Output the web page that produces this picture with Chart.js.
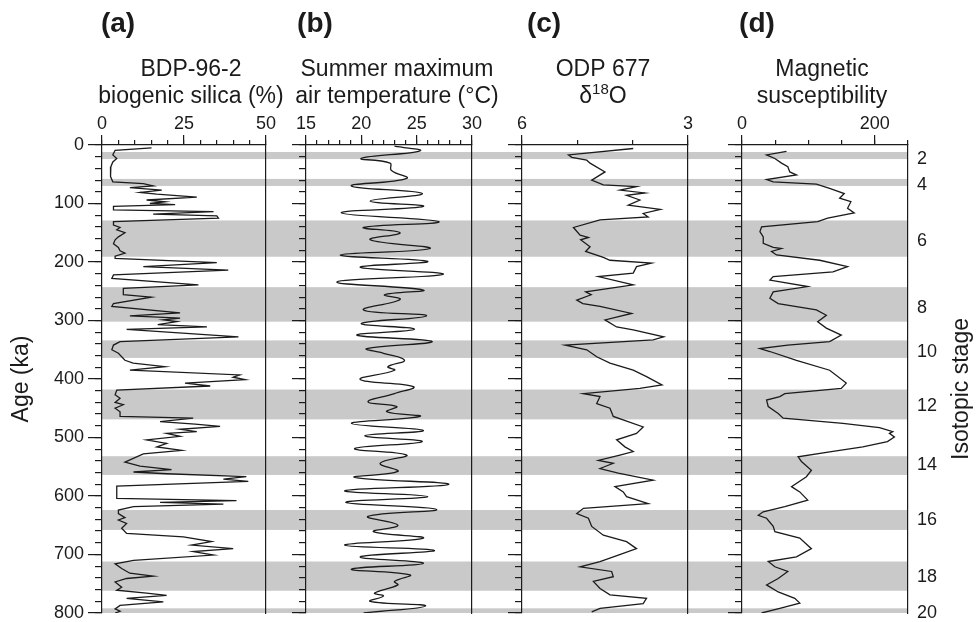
<!DOCTYPE html>
<html lang="en">
<head>
<meta charset="UTF-8" />
<title>BDP-96-2 records vs age</title>
<style>
  html, body { margin: 0; background: #fff; }
  #wrap { position: relative; width: 979px; height: 622px; }
  #wrap canvas { position: absolute; left: 0; top: 0; }
</style>
</head>
<body>
<div id="wrap">
  <canvas id="bands" width="979" height="622"></canvas>
  <canvas id="panelA" width="979" height="622"></canvas>
  <canvas id="panelB" width="979" height="622"></canvas>
  <canvas id="panelC" width="979" height="622"></canvas>
  <canvas id="panelD" width="979" height="622"></canvas>
</div>
<script src="https://cdn.jsdelivr.net/npm/chart.js"></script>
<script>
// glacial (even) isotopic stages, shaded grey (ka)
const glacialStart = [12, 58, 129, 243, 334, 418, 532, 624, 712, 792];
const glacialEnd   = [24, 70, 191, 302, 364, 469, 564, 658, 762, 800];
const stageAges   = [24, 68, 165, 279, 354, 447, 547, 641, 738, 800];
const stageLabels = ['2', '4', '6', '8', '10', '12', '14', '16', '18', '20'];

// x-axis tick labels of each panel
const silicaTicks = [0, 25, 50];
const tempTicks = [15, 20, 25, 30];
const d18oTicks = [6, 3];
const magTicks = [0, 200];

// (a) BDP-96-2 biogenic silica (%)
const silicaAge = [5, 9, 17, 23, 29, 37, 54, 63, 66, 70, 73, 77, 81, 84, 89, 94, 97, 100, 102, 105,
  111, 114, 118, 121, 125, 131, 137, 141, 145, 150, 157, 162, 169, 175, 181, 185, 190, 194, 201, 208,
  214, 222, 228, 239, 245, 256, 260, 271, 276, 287, 292, 296, 299, 302, 307, 311, 315, 328, 336, 342,
  350, 356, 368, 373, 379, 385, 393, 397, 401, 407, 412, 419, 427, 433, 440, 444, 450, 456, 464, 467,
  473, 477, 481, 486, 490, 493, 498, 504, 510, 516, 522, 528, 542, 549, 555, 559, 562, 567, 571, 575,
  583, 590, 604, 608, 611, 614, 618, 624, 630, 637, 641, 647, 655, 664, 670, 678, 684, 690, 695, 701,
  710, 716, 724, 732, 737, 741, 747, 756, 761, 766, 770, 775, 781, 787, 793, 797, 800];
const silicaPct = [15.1, 4.0, 3.3, 4.5, 3.3, 2.7, 2.6, 3.3, 12.6, 15.6, 8.5, 18.2, 11.6, 16.7, 28.9, 13.6, 19.2, 14.6, 22.3, 3.5,
  3.5, 34, 15.6, 35, 35.5, 3.5, 3.5, 5.5, 4.5, 7, 5, 4, 3.5, 5, 5.5, 7, 4, 4, 35, 12.6,
  38.5, 3.5, 3, 29.4, 6.5, 6.5, 15, 3.5, 3, 23.8, 8.5, 23.8, 18.7, 22.8, 17, 32, 7.5, 41.6, 5.5, 3.5,
  3, 5, 7, 9.5, 19.2, 8.5, 42, 40, 43.6, 25.3, 33, 4.5, 4, 5.5, 4, 6.5, 4, 5.5, 5.5, 27.8,
  17.7, 28.4, 36, 23.8, 28.9, 19.7, 23.8, 13.6, 19.7, 16.7, 24.3, 12.6, 7, 11.6, 21.2, 9.6, 19.7, 44, 37, 44.6,
  4.5, 4.5, 4.5, 41, 17.7, 37, 9.6, 5, 5, 7, 5, 7.5, 6, 7.5, 24.8, 33.4, 27.3, 40, 27.8, 34,
  9.6, 4, 6, 8.5, 15.6, 7.5, 4, 6, 4.5, 13.6, 19.7, 7.5, 18.7, 5.5, 4, 5.5, 4];

// (b) summer maximum air temperature (deg C)
const tempAge = [2, 10, 23, 31, 43, 57, 70, 83, 96, 105, 116, 131, 141, 150, 162, 177, 188, 199, 209, 221,
  234, 248, 256, 264, 282, 292, 305, 315, 325, 336, 348, 356, 368, 379, 385, 401, 413, 425, 439, 447,
  456, 464, 476, 488, 497, 507, 519, 530, 544, 558, 568, 580, 591, 601, 611, 623, 635, 650, 661, 672,
  684, 693, 704, 715, 725, 735, 746, 752, 766, 771, 780, 788, 800];
const tempC = [23.0, 25.3, 20.0, 22.6, 22.7, 24.1, 19.1, 25.5, 20.8, 25.6, 18.2, 27.0, 20.2, 23.5, 20.8, 26.2, 18.1, 26.0, 19.9, 27.4,
  17.8, 25.6, 22.1, 23.5, 20.2, 25.9, 20.0, 24.8, 19.6, 26.4, 20.5, 22.0, 23.9, 22.4, 23.0, 19.9, 24.7, 23.0, 20.6, 23.2,
  22.3, 25.3, 19.1, 25.6, 20.3, 25.5, 19.4, 24.1, 21.7, 23.3, 19.4, 27.9, 18.5, 26.0, 18.6, 26.8, 20.6, 23.3, 21.1, 25.6,
  18.5, 26.6, 19.9, 25.6, 19.1, 24.4, 23.0, 23.3, 21.2, 22.0, 20.8, 25.8, 20.2];

// (c) ODP 677 d18O
const d18oAge = [6, 17, 21, 26, 31, 46, 60, 68, 71, 77, 82, 86, 94, 103, 110, 117, 123, 128, 141, 154,
  158, 162, 174, 182, 192, 197, 202, 208, 219, 225, 239, 251, 256, 265, 271, 276, 288, 299, 311, 316,
  328, 333, 342, 350, 362, 373, 385, 396, 410, 416, 425, 430, 442, 450, 464, 482, 493, 504, 516, 524,
  530, 539, 544, 553, 561, 573, 584, 593, 601, 613, 621, 630, 638, 652, 667, 678, 690, 701, 712, 721,
  729, 738, 746, 758, 769, 775, 784, 792, 798];
const d18o = [3.99, 5.16, 5.10, 4.83, 4.77, 4.50, 4.74, 4.53, 3.93, 4.23, 3.78, 4.11, 3.87, 4.08, 3.50, 3.81, 3.72, 4.59, 5.07, 4.95,
  4.80, 4.94, 4.77, 4.85, 4.53, 4.41, 3.66, 3.93, 3.99, 4.62, 3.99, 4.85, 4.75, 5.01, 4.90, 4.59, 4.02, 4.50, 4.29, 3.99,
  3.44, 3.63, 5.22, 4.83, 4.65, 4.41, 3.99, 3.75, 3.47, 3.87, 4.89, 4.59, 4.65, 4.41, 4.35, 3.81, 3.93, 4.29, 4.14, 3.99,
  4.23, 4.62, 4.35, 4.59, 4.26, 3.63, 4.32, 4.17, 4.11, 3.72, 4.89, 5.01, 4.80, 4.74, 4.53, 4.11, 3.93, 4.26, 4.59, 4.95,
  4.38, 4.35, 4.71, 4.59, 4.41, 3.75, 3.81, 4.59, 4.74];

// (d) magnetic susceptibility
const magAge = [11, 17, 23, 31, 37, 46, 51, 59, 63, 67, 74, 83, 91, 97, 108, 116, 125, 131, 140, 148,
  157, 168, 175, 177, 182, 188, 197, 208, 217, 225, 231, 242, 251, 262, 271, 282, 291, 302, 313, 325,
  336, 342, 348, 353, 368, 385, 407, 416, 425, 430, 436, 447, 459, 467, 476, 483, 490, 493, 499, 507,
  516, 524, 533, 541, 556, 567, 584, 593, 607, 618, 627, 633, 638, 652, 661, 672, 690, 704, 712, 721,
  729, 741, 752, 764, 775, 783, 792, 800];
const magSus = [67, 37, 49.5, 59.5, 69, 72, 82, 37, 47, 112, 132, 154, 147, 164, 159, 169, 129, 114, 29.5, 27,
  32, 32, 47, 59.5, 44.5, 52, 117, 159, 137, 47, 42, 99, 47, 42, 54.5, 112, 127, 114, 127, 149.5,
  132, 69, 27, 42, 82, 132, 157, 149.5, 64.5, 57, 37, 39.5, 54.5, 62, 152, 207, 227, 222, 229.5, 219,
  182, 134.5, 84.5, 89.5, 104.5, 97, 74.5, 87, 99, 64.5, 32, 24.5, 37, 47, 49.5, 87, 104.5, 82, 39.5, 49.5,
  69, 54.5, 37, 54.5, 79.5, 87, 57, 29.5];

const INK = '#1b1b1b';
const BAND = '#c9c9c9';
const FONT = '"Liberation Sans", Arial, Helvetica, sans-serif';
const W = 979, H = 622, TOP = 145, BOTTOM = 613;

// grey stage bands behind all four panels
new Chart(document.getElementById('bands'), {
  type: 'scatter',
  data: { datasets: [] },
  options: {
    responsive: false, animation: false, devicePixelRatio: 1,
    layout: { autoPadding: false, padding: { left: 102, right: W - 908, top: TOP, bottom: H - BOTTOM } },
    plugins: { legend: { display: false }, tooltip: { enabled: false } },
    scales: {
      x: { type: 'linear', display: false, min: 0, max: 1 },
      y: { type: 'linear', display: false, reverse: true, min: 0, max: 800 }
    }
  },
  plugins: [{
    id: 'stageBands',
    beforeDatasetsDraw(chart) {
      const { ctx, chartArea: a, scales: { y } } = chart;
      ctx.save();
      ctx.fillStyle = BAND;
      glacialStart.forEach((s, i) => {
        const y1 = y.getPixelForValue(s), y2 = y.getPixelForValue(glacialEnd[i]);
        ctx.fillRect(a.left, y1, a.right - a.left, y2 - y1);
      });
      ctx.restore();
    },
    afterDraw(chart) {
      const { ctx, chartArea: a } = chart;
      ctx.save();
      ctx.translate(a.right + 54, (a.top + a.bottom) / 2 + 10);
      ctx.rotate(-Math.PI / 2);
      ctx.font = `23px ${FONT}`;
      ctx.fillStyle = INK;
      ctx.textAlign = 'center';
      ctx.textBaseline = 'middle';
      ctx.fillText('Isotopic stage', 0, 0);
      ctx.restore();
    }
  }]
});

// panel letter and two-line header; a segment with sup:true is drawn as superscript
const headerPlugin = {
  id: 'panelHeader',
  afterDraw(chart, args, o) {
    const ctx = chart.ctx;
    ctx.save();
    ctx.fillStyle = INK;
    ctx.textBaseline = 'middle';
    ctx.textAlign = 'center';
    ctx.font = `bold 28px ${FONT}`;
    ctx.fillText(o.letter, o.letterX, 24);
    ctx.textAlign = 'left';
    o.lines.forEach((line, k) => {
      const segs = typeof line === 'string' ? [{ t: line }] : line;
      const fontOf = s => s.sup ? `15px ${FONT}` : `23px ${FONT}`;
      let total = 0;
      segs.forEach(s => { ctx.font = fontOf(s); total += ctx.measureText(s.t).width; });
      let x = o.titleX - total / 2;
      const y = 70 + k * 27;
      segs.forEach(s => {
        ctx.font = fontOf(s);
        ctx.fillText(s.t, x, s.sup ? y - 7 : y);
        x += ctx.measureText(s.t).width;
      });
    });
    ctx.restore();
  }
};

const fixH = h => s => { s.height = h; s.paddingLeft = 0; s.paddingRight = 0; };
const fixW = w => s => { s.width = w; s.paddingTop = 0; s.paddingBottom = 0; };

function makePanel(p) {
  const yW = p.ageAxis ? p.left : 16;
  const rW = p.stages ? 70 : 0;
  const topH = 90;
  const tickFont = { family: FONT, size: 18 };
  const ageBase = { type: 'linear', axis: 'y', reverse: true, min: 0, max: 800 };
  const valBase = { type: 'linear', axis: 'x', position: 'top', min: p.min, max: p.max, reverse: !!p.reverse };
  const data = p.ages.map((a, i) => ({ x: p.vals[i], y: a }));

  return new Chart(document.getElementById(p.id), {
    type: 'scatter',
    data: {
      datasets: [{
        data, showLine: true, borderColor: INK, borderWidth: 1.3,
        pointRadius: 0, tension: p.tension, xAxisID: 'x', yAxisID: 'y'
      }]
    },
    options: {
      responsive: false, animation: false, devicePixelRatio: 1,
      layout: { autoPadding: false, padding: { left: p.left - yW, right: W - p.right - rW, top: TOP - topH, bottom: H - BOTTOM } },
      plugins: {
        legend: { display: false }, tooltip: { enabled: false },
        panelHeader: { letter: p.letter, letterX: p.letterX, lines: p.title, titleX: p.titleX }
      },
      scales: {
        x: {
          ...valBase, weight: 1,
          afterBuildTicks: s => { s.ticks = p.ticks.map(v => ({ value: v })); },
          afterFit: fixH(topH),
          grid: { drawOnChartArea: false, tickLength: 10, color: INK, lineWidth: 1.2 },
          border: { display: true, color: INK, width: 1.2 },
          ticks: { padding: 0, autoSkip: false, maxRotation: 0, color: INK, font: tickFont }
        },
        x2: {
          ...valBase, weight: 0,
          ticks: { display: false, stepSize: p.minorStep },
          afterFit: fixH(0),
          grid: { drawOnChartArea: false, tickLength: 5, color: INK, lineWidth: 1.2 },
          border: { display: false }
        },
        y: {
          ...ageBase, position: 'left', weight: 1,
          ticks: { display: !!p.ageAxis, stepSize: 100, padding: 4, autoSkip: false, color: INK, font: tickFont },
          afterFit: fixW(yW),
          grid: { drawOnChartArea: false, tickLength: 14, color: INK, lineWidth: 1.2 },
          border: { display: true, color: INK, width: 1.2 },
          title: { display: !!p.ageAxis, text: 'Age (ka)', color: INK, font: { family: FONT, size: 23 }, padding: { top: 8, bottom: 0 } }
        },
        y2: {
          ...ageBase, position: 'left', weight: 0,
          ticks: { display: false, stepSize: 20 },
          afterFit: fixW(0),
          grid: { drawOnChartArea: false, tickLength: 7, color: INK, lineWidth: 1.2 },
          border: { display: false }
        },
        yR: {
          ...ageBase, position: 'right',
          afterBuildTicks: p.stages ? (s => { s.ticks = stageAges.map(v => ({ value: v })); }) : undefined,
          ticks: {
            display: !!p.stages, padding: 9, autoSkip: false, color: INK, font: tickFont,
            callback: (v, i) => stageLabels[i]
          },
          afterFit: fixW(rW),
          grid: { drawOnChartArea: false, drawTicks: false },
          border: { display: true, color: INK, width: 1.2 }
        }
      }
    },
    plugins: [headerPlugin]
  });
}

makePanel({ id: 'panelA', left: 102, right: 266, min: 0, max: 50, ticks: silicaTicks, minorStep: 5,
  title: ['BDP-96-2', 'biogenic silica (%)'], titleX: 191, letter: '(a)', letterX: 118,
  ages: silicaAge, vals: silicaPct, tension: 0, ageAxis: true });
makePanel({ id: 'panelB', left: 306, right: 472, min: 15, max: 30, ticks: tempTicks, minorStep: 1,
  title: ['Summer maximum', 'air temperature (°C)'], titleX: 397, letter: '(b)', letterX: 315,
  ages: tempAge, vals: tempC, tension: 0.45 });
makePanel({ id: 'panelC', left: 522, right: 688, min: 3, max: 6, reverse: true, ticks: d18oTicks, minorStep: 1,
  title: ['ODP 677', [{ t: 'δ' }, { t: '18', sup: true }, { t: 'O' }]], titleX: 603, letter: '(c)', letterX: 544,
  ages: d18oAge, vals: d18o, tension: 0 });
makePanel({ id: 'panelD', left: 742, right: 908, min: 0, max: 250, ticks: magTicks, minorStep: 50,
  title: ['Magnetic', 'susceptibility'], titleX: 822, letter: '(d)', letterX: 757,
  ages: magAge, vals: magSus, tension: 0, stages: true });
</script>
</body>
</html>
